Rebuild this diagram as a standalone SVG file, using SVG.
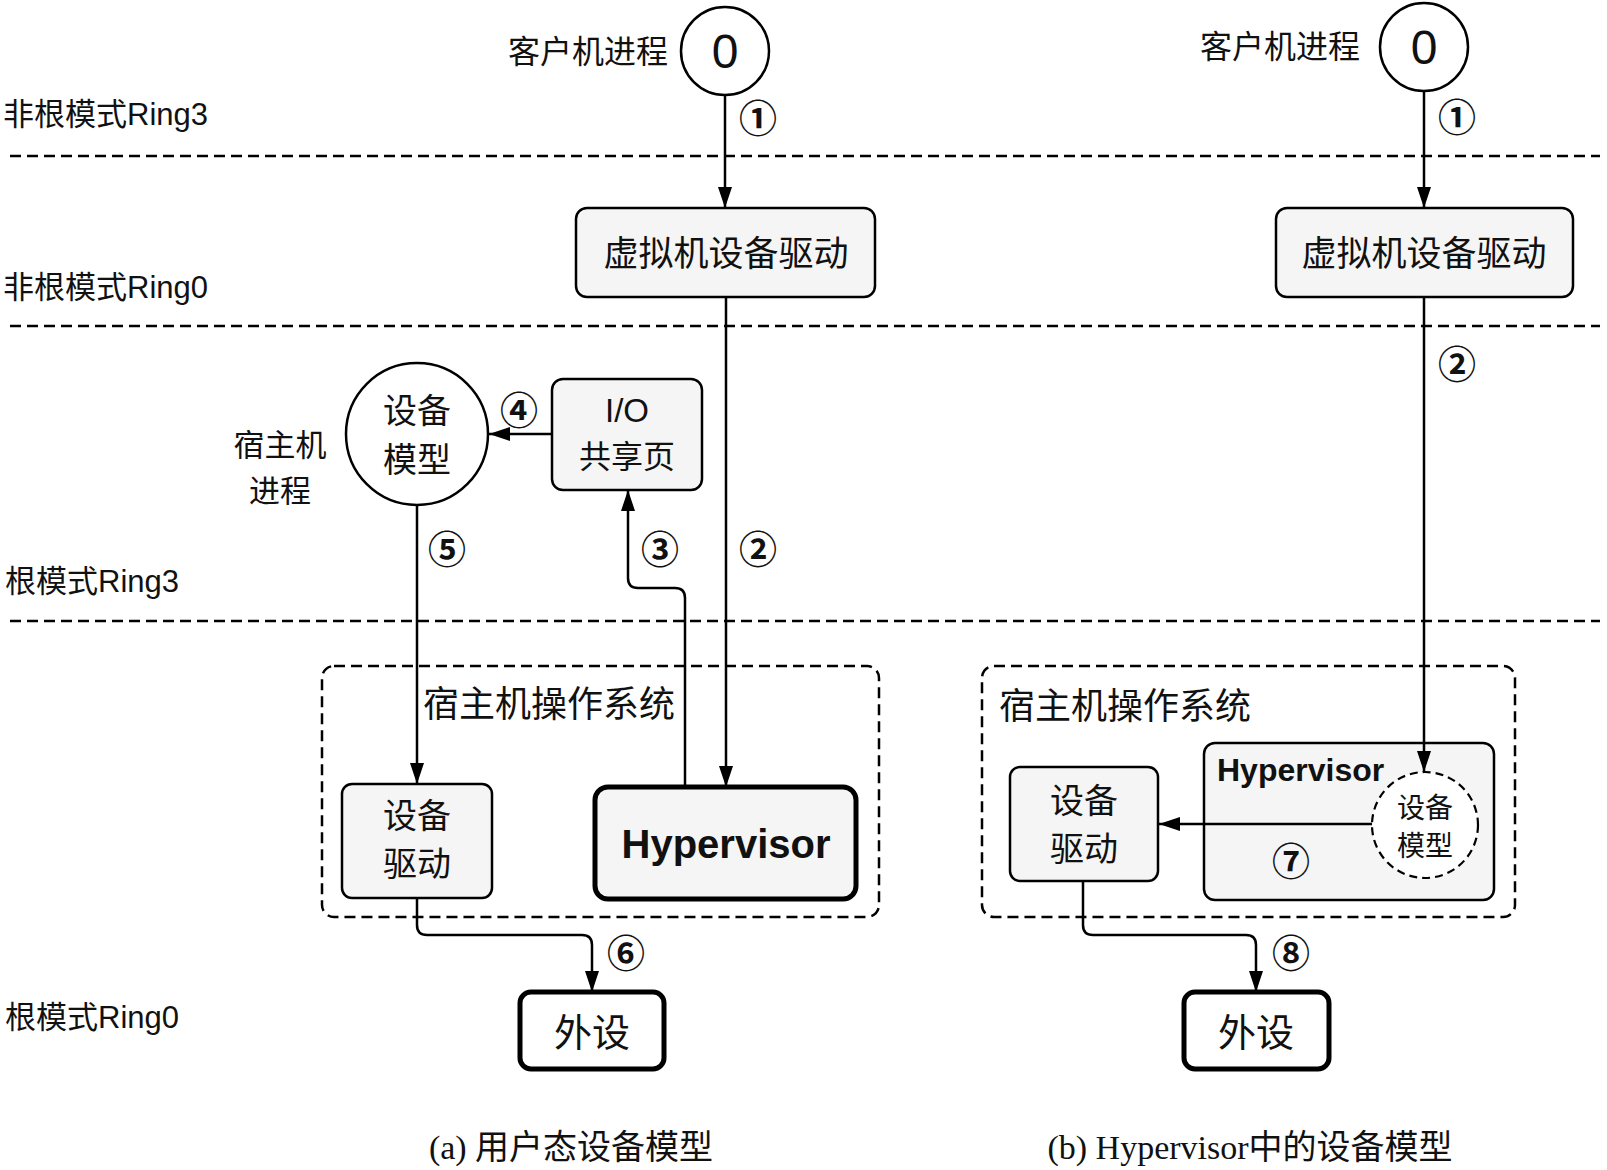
<svg xmlns="http://www.w3.org/2000/svg" width="1607" height="1170" viewBox="0 0 1607 1170">
<defs>
<marker id="arr" markerWidth="21" markerHeight="14" refX="21" refY="7" orient="auto" markerUnits="userSpaceOnUse"><path d="M0,0 L21,7 L0,14 z" fill="#000"/></marker>
<style>
text{font-family:"Liberation Sans","Noto Sans CJK SC",sans-serif;fill:#111}
.lbl{font-size:31px}
.c{text-anchor:middle}
.num{font-family:"Noto Sans CJK SC",sans-serif;font-size:38px;font-weight:bold;text-anchor:middle}
.sep{stroke:#000;stroke-width:2.6;stroke-dasharray:11 6;fill:none}
.box{fill:#f5f5f5;stroke:#000;stroke-width:2.5}
.thick{fill:#f5f5f5;stroke:#000;stroke-width:5}
.circ{fill:#fff;stroke:#000;stroke-width:2.5}
.dbox{fill:none;stroke:#000;stroke-width:2.5;stroke-dasharray:11 6}
.conn path{fill:none;stroke:#000;stroke-width:2.5;marker-end:url(#arr)}
.cap{font-family:"Liberation Serif","Noto Sans CJK SC",serif;font-size:34px;text-anchor:middle}
</style>
</defs>
<rect width="1607" height="1170" fill="#fff"/>

<g id="separators">
<line class="sep" x1="10" y1="156" x2="1600" y2="156"/>
<line class="sep" x1="10" y1="326" x2="1600" y2="326"/>
<line class="sep" x1="10" y1="621" x2="1600" y2="621"/>
</g>

<g id="ring-labels">
<text class="lbl" x="3" y="125">非根模式Ring3</text>
<text class="lbl" x="3" y="298">非根模式Ring0</text>
<text class="lbl" x="5" y="592">根模式Ring3</text>
<text class="lbl" x="5" y="1028">根模式Ring0</text>
</g>

<g id="host-os-a">
<rect class="dbox" x="322" y="666" width="557" height="251" rx="12"/>
<text x="423" y="717" style="font-size:36px">宿主机操作系统</text>
</g>
<g id="host-os-b">
<rect class="dbox" x="982" y="666" width="533" height="251" rx="12"/>
<text x="999" y="719" style="font-size:36px">宿主机操作系统</text>
</g>

<g id="guest-proc-a">
<text x="668" y="63" style="font-size:32px;text-anchor:end">客户机进程</text>
<circle class="circ" cx="725" cy="51" r="44"/>
<text class="c" x="725" y="68" style="font-size:48px">0</text>
</g>
<g id="guest-proc-b">
<text x="1360" y="58" style="font-size:32px;text-anchor:end">客户机进程</text>
<circle class="circ" cx="1424" cy="47" r="44"/>
<text class="c" x="1424" y="64" style="font-size:48px">0</text>
</g>

<g id="vdrv-a">
<rect class="box" x="576" y="208" width="299" height="89" rx="11"/>
<text class="c" x="726" y="266" style="font-size:35px">虚拟机设备驱动</text>
</g>
<g id="vdrv-b">
<rect class="box" x="1276" y="208" width="297" height="89" rx="11"/>
<text class="c" x="1424" y="266" style="font-size:35px">虚拟机设备驱动</text>
</g>

<g id="host-proc-label">
<text class="c" x="280" y="456" style="font-size:31px">宿主机</text>
<text class="c" x="280" y="502" style="font-size:31px">进程</text>
</g>

<g id="devmodel-a">
<circle class="circ" cx="417" cy="434" r="71"/>
<text class="c" x="417" y="423" style="font-size:34px">设备</text>
<text class="c" x="417" y="472" style="font-size:34px">模型</text>
</g>

<g id="io-page">
<rect class="box" x="552" y="379" width="150" height="111" rx="11"/>
<text class="c" x="627" y="422" style="font-size:33px">I/O</text>
<text class="c" x="627" y="468" style="font-size:32px">共享页</text>
</g>

<g id="drv-a">
<rect class="box" x="342" y="784" width="150" height="114" rx="10"/>
<text class="c" x="417" y="828" style="font-size:34px">设备</text>
<text class="c" x="417" y="876" style="font-size:34px">驱动</text>
</g>

<g id="hyp-a">
<rect class="thick" x="595" y="787" width="261" height="112" rx="13"/>
<text class="c" x="726" y="858" style="font-size:40px;font-weight:bold">Hypervisor</text>
</g>

<g id="drv-b">
<rect class="box" x="1010" y="767" width="148" height="114" rx="10"/>
<text class="c" x="1084" y="813" style="font-size:34px">设备</text>
<text class="c" x="1084" y="861" style="font-size:34px">驱动</text>
</g>

<g id="hyp-b">
<rect class="box" x="1204" y="743" width="290" height="157" rx="11"/>
<text x="1217" y="781" style="font-size:32px;font-weight:bold">Hypervisor</text>
</g>
<g id="devmodel-b">
<circle cx="1425" cy="825" r="53" fill="#fff" stroke="#000" stroke-width="2.2" stroke-dasharray="8 5"/>
<text class="c" x="1425" y="818" style="font-size:28px">设备</text>
<text class="c" x="1425" y="856" style="font-size:28px">模型</text>
</g>

<g id="periph-a">
<rect x="520" y="992" width="144" height="77" rx="11" fill="#fff" stroke="#000" stroke-width="5"/>
<text class="c" x="592" y="1046" style="font-size:38px">外设</text>
</g>
<g id="periph-b">
<rect x="1184" y="992" width="145" height="77" rx="11" fill="#fff" stroke="#000" stroke-width="5"/>
<text class="c" x="1256" y="1046" style="font-size:38px">外设</text>
</g>

<g id="connectors" class="conn">
<path d="M725,95 V208"/>
<path d="M1424,91 V208"/>
<path d="M726,297 V787"/>
<path d="M1424,297 V772"/>
<path d="M685,787 V598 Q685,588 675,588 H638 Q628,588 628,578 V490"/>
<path d="M552,434 H489"/>
<path d="M417,505 V784"/>
<path d="M417,898 V925 Q417,935 427,935 H582 Q592,935 592,945 V992"/>
<path d="M1372,824 H1159"/>
<path d="M1083,881 V925 Q1083,935 1093,935 H1246 Q1256,935 1256,945 V992"/>
</g>

<g id="step-numbers">
<text class="num" x="758" y="132">①</text>
<text class="num" x="1457" y="131">①</text>
<text class="num" x="1457" y="378">②</text>
<text class="num" x="758" y="563">②</text>
<text class="num" x="660" y="563">③</text>
<text class="num" x="519" y="424">④</text>
<text class="num" x="447" y="563">⑤</text>
<text class="num" x="626" y="967">⑥</text>
<text class="num" x="1291" y="875">⑦</text>
<text class="num" x="1291" y="967">⑧</text>
</g>

<g id="captions">
<text class="cap" x="571" y="1159">(a) 用户态设备模型</text>
<text class="cap" x="1250" y="1159">(b) Hypervisor中的设备模型</text>
</g>
</svg>
